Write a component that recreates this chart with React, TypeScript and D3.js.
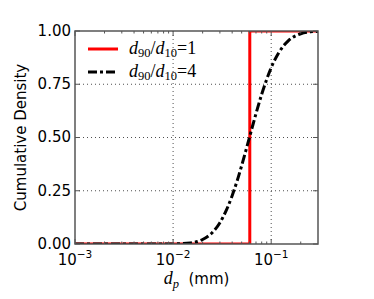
import React from "react";
import * as d3 from "d3";

// particle size (mm) vs cumulative density
const uniformDp = [0.001, 0.0605, 0.0605, 0.3];
const uniformCdf = [0, 0, 1, 1];

const spreadDp = [0.001, 0.005, 0.01, 0.015, 0.02, 0.025, 0.03, 0.035, 0.04, 0.045, 0.05, 0.055, 0.06, 0.07, 0.08, 0.09, 0.1, 0.12, 0.15, 0.2, 0.25, 0.3];
const spreadCdf = [0, 0, 0.0005, 0.005, 0.021, 0.053, 0.1, 0.16, 0.227, 0.297, 0.368, 0.436, 0.5, 0.612, 0.703, 0.773, 0.828, 0.9, 0.955, 0.987, 0.996, 0.9985];

const xMajor = [0.001, 0.01, 0.1];
const xMajorExp = ["-3", "-2", "-1"];
const yTicks = [0, 0.25, 0.5, 0.75, 1];
const yTickLabels = ["0.00", "0.25", "0.50", "0.75", "1.00"];
const legendLabels = ["1", "4"];

const W = 374;
const H = 299;
const m = { left: 75, right: 318, top: 31, bottom: 244 };

export default function App() {
  const x = d3.scaleLog().domain([0.001, 0.3]).range([m.left, m.right]);
  const y = d3.scaleLinear().domain([0, 1]).range([m.bottom, m.top]);

  const minor: number[] = [];
  [0.001, 0.01, 0.1].forEach((dec) => {
    for (let k = 2; k <= 9; k++) {
      const v = dec * k;
      if (v < 0.3) minor.push(v);
    }
  });

  const red = d3
    .line<number>()
    .x((d, i) => x(uniformDp[i]))
    .y((d) => y(d))(uniformCdf);

  const black = d3
    .line<number>()
    .x((d, i) => x(spreadDp[i]))
    .y((d) => y(d))
    .curve(d3.curveMonotoneX)(spreadCdf);

  const spine = "#555";
  const sans = "'DejaVu Sans', sans-serif";
  const serif = "'Liberation Serif', 'DejaVu Serif', serif";

  return (
    <svg width={W} height={H} style={{ position: "absolute", left: 0, top: 0, background: "#fff" }}>
      <defs>
        <clipPath id="plot">
          <rect x={m.left} y={m.top} width={m.right - m.left} height={m.bottom - m.top} />
        </clipPath>
      </defs>

      {/* grid */}
      <g stroke="#222" strokeWidth={0.8} strokeDasharray="1,3">
        {xMajor.slice(1).map((v) => (
          <line key={"gx" + v} x1={x(v)} x2={x(v)} y1={m.top} y2={m.bottom} />
        ))}
        {yTicks.slice(1, -1).map((v) => (
          <line key={"gy" + v} x1={m.left} x2={m.right} y1={y(v)} y2={y(v)} />
        ))}
      </g>

      {/* curves */}
      <g clipPath="url(#plot)" fill="none">
        <path d={red || ""} stroke="#ff0000" strokeWidth={3} />
        <path d={black || ""} stroke="#000" strokeWidth={3} strokeDasharray="9,3,3,3" />
      </g>

      {/* ticks */}
      <g stroke={spine} strokeWidth={1}>
        {xMajor.map((v) => (
          <g key={"tx" + v}>
            <line x1={x(v)} x2={x(v)} y1={m.bottom} y2={m.bottom - 5} />
            <line x1={x(v)} x2={x(v)} y1={m.top} y2={m.top + 5} />
          </g>
        ))}
        {minor.map((v) => (
          <g key={"mx" + v}>
            <line x1={x(v)} x2={x(v)} y1={m.bottom} y2={m.bottom - 2.5} />
            <line x1={x(v)} x2={x(v)} y1={m.top} y2={m.top + 2.5} />
          </g>
        ))}
        {yTicks.map((v) => (
          <g key={"ty" + v}>
            <line x1={m.left} x2={m.left + 5} y1={y(v)} y2={y(v)} />
            <line x1={m.right} x2={m.right - 5} y1={y(v)} y2={y(v)} />
          </g>
        ))}
      </g>

      {/* frame */}
      <rect
        x={m.left}
        y={m.top}
        width={m.right - m.left}
        height={m.bottom - m.top}
        fill="none"
        stroke={spine}
        strokeWidth={1.5}
      />

      {/* y tick labels */}
      <g fontFamily={sans} fontSize={15} fill="#000" textAnchor="end">
        {yTicks.map((v, i) => (
          <text key={"ly" + v} x={m.left - 4} y={y(v)} dy="0.33em">
            {yTickLabels[i]}
          </text>
        ))}
      </g>

      {/* x tick labels */}
      <g fontFamily={sans} fill="#000">
        {xMajor.map((v, i) => (
          <text key={"lx" + v} x={x(v)} y={265} textAnchor="middle" fontSize={15}>
            10
            <tspan fontSize={10.5} dy={-7}>
              {"\u2212" + xMajorExp[i].slice(1)}
            </tspan>
          </text>
        ))}
      </g>

      {/* axis labels */}
      <text
        transform={`translate(26, ${(m.top + m.bottom) / 2}) rotate(-90)`}
        textAnchor="middle"
        fontFamily={sans}
        fontSize={15}
        fill="#000"
      >
        Cumulative Density
      </text>
      <text x={(m.left + m.right) / 2} y={284} textAnchor="middle" fill="#000">
        <tspan fontFamily={serif} fontStyle="italic" fontSize={18}>d</tspan>
        <tspan fontFamily={serif} fontStyle="italic" fontSize={12.5} dy={4}>p</tspan>
        <tspan fontFamily={sans} fontSize={15} dy={-4}>{"\u00a0 (mm)"}</tspan>
      </text>

      {/* legend */}
      {legendLabels.map((lab, i) => {
        const ly = 49 + i * 23;
        return (
          <g key={"leg" + i}>
            <line
              x1={88}
              x2={118}
              y1={ly}
              y2={ly}
              stroke={i === 0 ? "#ff0000" : "#000"}
              strokeWidth={3}
              strokeDasharray={i === 0 ? undefined : "9,3,3,3"}
            />
            <text x={129} y={ly + 5} fontFamily={serif} fill="#000" fontSize={18}>
              <tspan fontStyle="italic">d</tspan>
              <tspan fontSize={12.5} dy={3}>90</tspan>
              <tspan dy={-3}>/</tspan>
              <tspan fontStyle="italic">d</tspan>
              <tspan fontSize={12.5} dy={3}>10</tspan>
              <tspan dy={-3}>{"=" + lab}</tspan>
            </text>
          </g>
        );
      })}
    </svg>
  );
}
